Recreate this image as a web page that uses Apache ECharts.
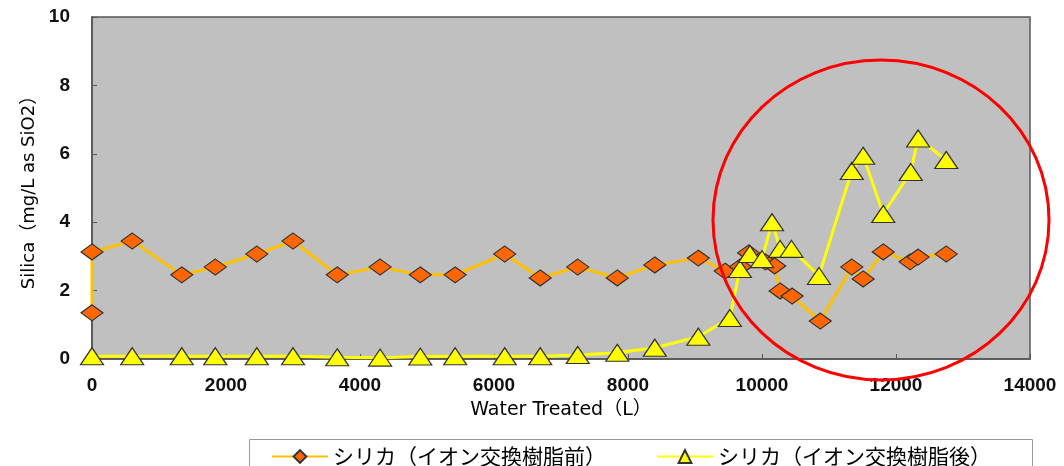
<!DOCTYPE html>
<html>
<head>
<meta charset="utf-8">
<script src="https://cdn.jsdelivr.net/npm/echarts@6/dist/echarts.min.js"></script>
<style>html,body{margin:0;padding:0;background:#fff;}#c{width:1064px;height:466px;}</style>
</head>
<body>
<div id="c"></div>
<script>
// Series: シリカ（イオン交換樹脂前） (before ion exchange)
const beforeX = [0,0,600,1340,1840,2460,3000,3660,4300,4900,5420,6160,6690,7250,7840,8400,9050,9450,9680,9800,10050,10190,10270,10450,10870,11340,11510,11810,12210,12330,12750];
const beforeY = [1.35,3.13,3.45,2.46,2.69,3.07,3.45,2.46,2.69,2.46,2.46,3.07,2.37,2.69,2.37,2.75,2.95,2.57,2.7,3.1,2.84,2.72,1.99,1.84,1.11,2.69,2.34,3.13,2.84,2.98,3.07];
// Series: シリカ（イオン交換樹脂後） (after ion exchange)
const afterX = [0,600,1340,1840,2460,3000,3660,4300,4900,5420,6160,6690,7250,7840,8400,9050,9520,9670,9820,10000,10150,10270,10440,10850,11340,11510,11810,12220,12330,12750];
const afterY = [0.08,0.08,0.08,0.08,0.08,0.08,0.05,0.04,0.07,0.08,0.08,0.08,0.12,0.18,0.33,0.65,1.2,2.63,3.07,2.92,4.0,3.22,3.22,2.43,5.5,5.94,4.24,5.47,6.45,5.82];
const seriesNames = ['シリカ（イオン交換樹脂前）','シリカ（イオン交換樹脂後）'];
const xTitle = 'Water Treated（L）';
const yTitle = 'Silica（mg/L as SiO2）';

const pairs = (xs, ys) => xs.map((x, i) => [x, ys[i]]);
const chart = echarts.init(document.getElementById('c'));
const cjk = '"Noto Sans CJK JP", sans-serif';
const titleFont = '"DejaVu Sans", "Noto Sans CJK JP", sans-serif';
chart.setOption({
  animation: false,
  grid: { left: 92, right: 34, top: 17, bottom: 107, show: true, backgroundColor: '#C0C0C0', borderColor: '#555', borderWidth: 1.5 },
  xAxis: {
    type: 'value', min: 0, max: 14000, interval: 2000,
    name: xTitle, nameLocation: 'middle', nameGap: 42,
    nameTextStyle: { fontFamily: titleFont, fontSize: 19, color: '#000' },
    axisLine: { show: true, lineStyle: { color: '#555', width: 1.5 } },
    axisTick: { show: true, inside: true, length: 5, lineStyle: { color: '#555' } },
    axisLabel: { margin: 17, formatter: v => String(v), fontFamily: 'Liberation Sans, Arial, sans-serif', fontWeight: 'bold', fontSize: 19, color: '#111' },
    splitLine: { show: false }
  },
  yAxis: {
    type: 'value', min: 0, max: 10, interval: 2,
    name: yTitle, nameLocation: 'middle', nameGap: 48, nameRotate: 90,
    nameTextStyle: { fontFamily: titleFont, fontSize: 18, color: '#000' },
    axisLine: { show: true, lineStyle: { color: '#555', width: 1.5 } },
    axisTick: { show: true, inside: true, length: 5, lineStyle: { color: '#555' } },
    axisLabel: { margin: 22, formatter: v => String(v), fontFamily: 'Liberation Sans, Arial, sans-serif', fontWeight: 'bold', fontSize: 19, color: '#111' },
    splitLine: { show: false }
  },
  legend: {
    left: 266, top: 441, itemWidth: 56, itemHeight: 16, itemGap: 50,
    textStyle: { fontFamily: cjk, fontSize: 21, color: '#000' },
    data: seriesNames
  },
  series: [
    {
      name: seriesNames[0], type: 'line', data: pairs(beforeX, beforeY),
      symbol: 'diamond', symbolSize: [22, 16],
      lineStyle: { color: '#FFC000', width: 3 },
      itemStyle: { color: '#FF6600', borderColor: '#333', borderWidth: 1.2 }
    },
    {
      name: seriesNames[1], type: 'line', data: pairs(afterX, afterY),
      symbol: 'triangle', symbolSize: [23, 17],
      lineStyle: { color: '#FFFF00', width: 3 },
      itemStyle: { color: '#FFFF00', borderColor: '#333', borderWidth: 1.2 }
    }
  ],
  graphic: [
    { type: 'rect', left: 247, top: 437, shape: { width: 783, height: 40 }, style: { fill: 'none', stroke: '#999', lineWidth: 1 }, z: 0 },
    { type: 'ellipse', shape: { cx: 881, cy: 220, rx: 168, ry: 160 }, style: { fill: 'none', stroke: '#FF0000', lineWidth: 3 }, z: 100 }
  ]
});
</script>
</body>
</html>
